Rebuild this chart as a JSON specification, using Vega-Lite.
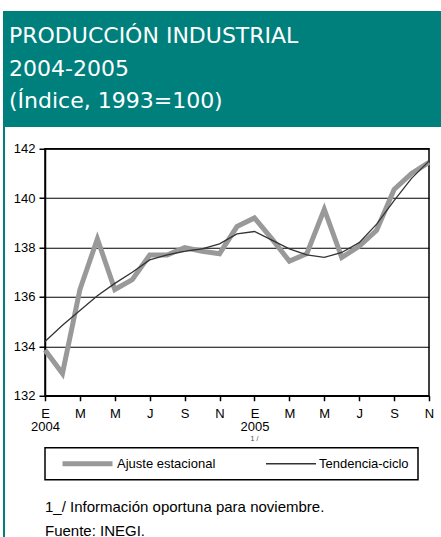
{
  "$schema": "https://vega.github.io/schema/vega-lite/v6.json",
  "padding": {"left": 3, "top": 11, "right": 0, "bottom": 0},
  "background": "white",
  "spacing": 0,
  "resolve": {"scale": {"color": "independent", "strokeWidth": "independent", "x": "independent", "y": "independent"}, "legend": {"color": "independent", "strokeWidth": "independent"}},
  "datasets": {
    "encabezado": [
      {"linea": 1, "texto": "PRODUCCIÓN INDUSTRIAL"},
      {"linea": 2, "texto": "2004-2005"},
      {"linea": 3, "texto": "(Índice, 1993=100)"}
    ],
    "serie": [
      {"fecha": "2004-01", "serie": "Ajuste estacional", "valor": 133.85},
      {"fecha": "2004-02", "serie": "Ajuste estacional", "valor": 132.9},
      {"fecha": "2004-03", "serie": "Ajuste estacional", "valor": 136.3},
      {"fecha": "2004-04", "serie": "Ajuste estacional", "valor": 138.35},
      {"fecha": "2004-05", "serie": "Ajuste estacional", "valor": 136.3},
      {"fecha": "2004-06", "serie": "Ajuste estacional", "valor": 136.7},
      {"fecha": "2004-07", "serie": "Ajuste estacional", "valor": 137.7},
      {"fecha": "2004-08", "serie": "Ajuste estacional", "valor": 137.7},
      {"fecha": "2004-09", "serie": "Ajuste estacional", "valor": 138.0},
      {"fecha": "2004-10", "serie": "Ajuste estacional", "valor": 137.85},
      {"fecha": "2004-11", "serie": "Ajuste estacional", "valor": 137.75},
      {"fecha": "2004-12", "serie": "Ajuste estacional", "valor": 138.85},
      {"fecha": "2005-01", "serie": "Ajuste estacional", "valor": 139.2},
      {"fecha": "2005-02", "serie": "Ajuste estacional", "valor": 138.35},
      {"fecha": "2005-03", "serie": "Ajuste estacional", "valor": 137.45},
      {"fecha": "2005-04", "serie": "Ajuste estacional", "valor": 137.75},
      {"fecha": "2005-05", "serie": "Ajuste estacional", "valor": 139.55},
      {"fecha": "2005-06", "serie": "Ajuste estacional", "valor": 137.6},
      {"fecha": "2005-07", "serie": "Ajuste estacional", "valor": 138.05},
      {"fecha": "2005-08", "serie": "Ajuste estacional", "valor": 138.7},
      {"fecha": "2005-09", "serie": "Ajuste estacional", "valor": 140.35},
      {"fecha": "2005-10", "serie": "Ajuste estacional", "valor": 141.0},
      {"fecha": "2005-11", "serie": "Ajuste estacional", "valor": 141.45},
      {"fecha": "2004-01", "serie": "Tendencia-ciclo", "valor": 134.2},
      {"fecha": "2004-02", "serie": "Tendencia-ciclo", "valor": 134.85},
      {"fecha": "2004-03", "serie": "Tendencia-ciclo", "valor": 135.45},
      {"fecha": "2004-04", "serie": "Tendencia-ciclo", "valor": 136.05},
      {"fecha": "2004-05", "serie": "Tendencia-ciclo", "valor": 136.55},
      {"fecha": "2004-06", "serie": "Tendencia-ciclo", "valor": 137.0},
      {"fecha": "2004-07", "serie": "Tendencia-ciclo", "valor": 137.5},
      {"fecha": "2004-08", "serie": "Tendencia-ciclo", "valor": 137.7},
      {"fecha": "2004-09", "serie": "Tendencia-ciclo", "valor": 137.85},
      {"fecha": "2004-10", "serie": "Tendencia-ciclo", "valor": 137.95},
      {"fecha": "2004-11", "serie": "Tendencia-ciclo", "valor": 138.15},
      {"fecha": "2004-12", "serie": "Tendencia-ciclo", "valor": 138.55},
      {"fecha": "2005-01", "serie": "Tendencia-ciclo", "valor": 138.65},
      {"fecha": "2005-02", "serie": "Tendencia-ciclo", "valor": 138.3},
      {"fecha": "2005-03", "serie": "Tendencia-ciclo", "valor": 137.95},
      {"fecha": "2005-04", "serie": "Tendencia-ciclo", "valor": 137.7},
      {"fecha": "2005-05", "serie": "Tendencia-ciclo", "valor": 137.6},
      {"fecha": "2005-06", "serie": "Tendencia-ciclo", "valor": 137.8},
      {"fecha": "2005-07", "serie": "Tendencia-ciclo", "valor": 138.2},
      {"fecha": "2005-08", "serie": "Tendencia-ciclo", "valor": 138.95},
      {"fecha": "2005-09", "serie": "Tendencia-ciclo", "valor": 139.9},
      {"fecha": "2005-10", "serie": "Tendencia-ciclo", "valor": 140.8},
      {"fecha": "2005-11", "serie": "Tendencia-ciclo", "valor": 141.5}
    ],
    "nota": [
      {"fecha": "2005-01", "texto": "1 /"}
    ]
  },
  "vconcat": [
    {
      "width": 438,
      "height": 116,
      "view": {"fill": "#00807d", "stroke": null},
      "data": {"name": "encabezado"},
      "mark": {"type": "text", "align": "left", "baseline": "alphabetic", "font": "DejaVu Sans", "fontSize": 22, "color": "white", "dx": 6},
      "encoding": {
        "x": {"value": 0},
        "y": {"field": "linea", "type": "ordinal", "axis": null, "scale": {"type": "point", "padding": 0, "range": [32, 97]}},
        "text": {"field": "texto"}
      }
    },
    {
      "resolve": {"scale": {"color": "independent", "strokeWidth": "independent", "x": "independent", "y": "independent"}, "legend": {"color": "independent", "strokeWidth": "independent"}},
      "hconcat": [
        {
          "width": 2,
          "height": 434,
          "view": {"fill": "#00807d", "stroke": null},
          "data": {"name": "nota"},
          "mark": {"type": "text", "text": "", "opacity": 0},
          "encoding": {}
        },
        {
          "width": 384,
          "height": 247,
          "title": {
            "text": ["1_/ Información oportuna para noviembre.", "Fuente: INEGI."],
            "orient": "bottom",
            "anchor": "start",
            "frame": "group",
            "font": "Liberation Sans",
            "fontSize": 15,
            "fontWeight": "normal",
            "color": "black",
            "lineHeight": 24,
            "offset": 19
          },
          "layer": [
            {
              "data": {"name": "serie"},
              "mark": {"type": "line", "strokeJoin": "miter"},
              "encoding": {
                "x": {
                  "field": "fecha",
                  "type": "ordinal",
                  "scale": {"type": "point", "padding": 0},
                  "title": null,
                  "axis": {
                    "values": ["2004-01", "2004-03", "2004-05", "2004-07", "2004-09", "2004-11", "2005-01", "2005-03", "2005-05", "2005-07", "2005-09", "2005-11"],
                    "labelExpr": "slice(datum.value, 5) == '01' ? ['E', slice(datum.value, 0, 4)] : substring('EFMAMJJASOND', toNumber(slice(datum.value, 5)) - 1, toNumber(slice(datum.value, 5)))",
                    "labelAngle": 0,
                    "tickSize": 5,
                    "labelPadding": 7,
                    "labelLineHeight": 13,
                    "grid": false
                  }
                },
                "y": {
                  "field": "valor",
                  "type": "quantitative",
                  "scale": {"domain": [132, 142]},
                  "title": null,
                  "axis": {"values": [132, 134, 136, 138, 140, 142], "grid": true, "tickSize": 6, "labelPadding": 4}
                },
                "color": {
                  "field": "serie",
                  "type": "nominal",
                  "scale": {"domain": ["Ajuste estacional", "Tendencia-ciclo"], "range": ["#999999", "#333333"]},
                  "legend": {
                    "title": null,
                    "orient": "bottom",
                    "direction": "horizontal",
                    "strokeColor": "black",
                    "padding": 9,
                    "symbolType": "stroke",
                    "symbolSize": 2500,
                    "symbolOffset": 6,
                    "clipHeight": 14,
                    "labelOffset": 2,
                    "columnPadding": 43,
                    "labelFont": "Liberation Sans",
                    "labelFontSize": 13,
                    "labelColor": "black",
                    "offset": 14,
                    "encode": {
                      "symbols": {"update": {"strokeWidth": {"signal": "datum.value === 'Ajuste estacional' ? 5 : 1.3"}}},
                      "legend": {"update": {"strokeWidth": {"value": 1.5}}}
                    }
                  }
                },
                "strokeWidth": {
                  "field": "serie",
                  "type": "nominal",
                  "scale": {"domain": ["Ajuste estacional", "Tendencia-ciclo"], "range": [5, 1.3]},
                  "legend": null
                }
              }
            },
            {
              "data": {"name": "nota"},
              "mark": {"type": "text", "font": "Liberation Sans", "fontSize": 7, "color": "#444444", "baseline": "middle"},
              "encoding": {
                "x": {"field": "fecha", "type": "ordinal"},
                "y": {"value": 290},
                "text": {"field": "texto"}
              }
            }
          ]
        }
      ],
      "spacing": 7,
      "center": true
    }
  ],
  "config": {
    "view": {"stroke": "black", "strokeWidth": 1.5},
    "axis": {
      "labelFont": "Liberation Sans",
      "labelFontSize": 13,
      "labelColor": "black",
      "domainColor": "black",
      "domainWidth": 1.5,
      "tickColor": "black",
      "tickWidth": 1.5,
      "gridColor": "black",
      "gridOpacity": 1,
      "gridWidth": 1.2
    }
  }
}
